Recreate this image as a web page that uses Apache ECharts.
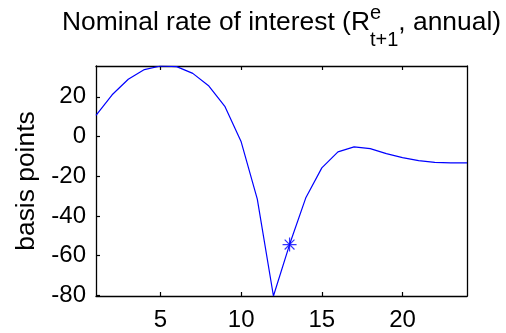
<!DOCTYPE html>
<html>
<head>
<meta charset="utf-8">
<script src="https://cdn.jsdelivr.net/npm/echarts@6/dist/echarts.min.js"></script>
<style>
html,body{margin:0;padding:0;background:#fff;}
#chart{width:506px;height:333px;}
</style>
</head>
<body>
<div id="chart"></div>
<script>
const periods = [1,2,3,4,5,6,7,8,9,10,11,12,13,14,15,16,17,18,19,20,21,22,23,24];
const rate = [10.6,21.0,28.8,33.7,35.5,35.2,31.8,25.4,15.0,-2.7,-31.5,-80.3,-54.4,-31.0,-15.8,-7.7,-5.2,-6.1,-8.6,-10.6,-12.1,-13.0,-13.3,-13.3];
const markerPeriods = [13];
const xTickValues = [5,10,15,20];
const yTickValues = [-80,-60,-40,-20,0,20];
const titleMain = 'Nominal rate of interest (R';
const titleSup = 'e';
const titleSub = 't+1';
const titleTail = ', annual)';
const yAxisTitle = 'basis points';

const FONT = 'Liberation Sans, Arial, Helvetica, sans-serif';
const mainSize = 26.4, smallSize = 20;

const cv = document.createElement('canvas').getContext('2d');
function tw(t, size){ cv.font = size + 'px ' + FONT; return cv.measureText(t).width; }

const gridLeft = 96, gridRight = 39, gridTop = 66, gridBottom = 37;
const W = 506, H = 333;
const centerX = (gridLeft + (W - gridRight)) / 2;

const wMain = tw(titleMain, mainSize);
const wSmall = Math.max(tw(titleSup, smallSize), tw(titleSub, smallSize));
const wTail = tw(titleTail, mainSize);
const total = wMain + wSmall + wTail;
const x0 = centerX - total / 2;

const chart = echarts.init(document.getElementById('chart'), null, {renderer:'canvas'});

const markerData = markerPeriods.map(p => [p, rate[periods.indexOf(p)]]);

const tickStyle = {show:true, inside:true, length:4, lineStyle:{color:'#000', width:1.2}};
const axisLineStyle = {show:true, onZero:false, lineStyle:{color:'#000', width:1.3}};

chart.setOption({
  animation:false,
  backgroundColor:'#fff',
  grid:{left:gridLeft, right:gridRight, top:gridTop, bottom:gridBottom, containLabel:false},
  xAxis:[{
    type:'value', min:periods[0], max:periods[periods.length-1], position:'bottom',
    axisLine:axisLineStyle,
    axisTick:Object.assign({customValues:xTickValues}, tickStyle),
    axisLabel:{customValues:xTickValues, color:'#000', fontSize:24, fontFamily:FONT, margin:12},
    splitLine:{show:false}
  },{
    type:'value', min:periods[0], max:periods[periods.length-1], position:'top',
    axisLine:axisLineStyle,
    axisTick:Object.assign({customValues:xTickValues}, tickStyle),
    axisLabel:{show:false},
    splitLine:{show:false}
  }],
  yAxis:[{
    type:'value', min:'dataMin', max:'dataMax', position:'left',
    axisLine:axisLineStyle,
    axisTick:Object.assign({customValues:yTickValues}, tickStyle),
    axisLabel:{customValues:yTickValues, color:'#000', fontSize:24, fontFamily:FONT, margin:10},
    splitLine:{show:false}
  },{
    type:'value', min:'dataMin', max:'dataMax', position:'right',
    axisLine:axisLineStyle,
    axisTick:Object.assign({customValues:yTickValues}, tickStyle),
    axisLabel:{show:false},
    splitLine:{show:false}
  }],
  series:[{
    type:'line',
    data:periods.map((p,i)=>[p, rate[i]]),
    showSymbol:false,
    symbol:'none',
    lineStyle:{color:'#0000ff', width:1.2},
    xAxisIndex:0, yAxisIndex:0
  },{
    type:'scatter',
    data:markerData,
    symbol:'path://M0,6L12,6M6,0L6,12M1.8,1.8L10.2,10.2M1.8,10.2L10.2,1.8',
    symbolSize:14,
    itemStyle:{color:'none', borderColor:'#0000ff', borderWidth:1.2},
    xAxisIndex:0, yAxisIndex:0
  }],
  graphic:[
    {type:'text', x:x0, y:22.7, style:{text:titleMain, font:mainSize+'px '+FONT, fill:'#000', textAlign:'left', textVerticalAlign:'middle'}},
    {type:'text', x:x0+wMain, y:13, style:{text:titleSup, font:smallSize+'px '+FONT, fill:'#000', textAlign:'left', textVerticalAlign:'middle'}},
    {type:'text', x:x0+wMain, y:40, style:{text:titleSub, font:smallSize+'px '+FONT, fill:'#000', textAlign:'left', textVerticalAlign:'middle'}},
    {type:'text', x:x0+wMain+wSmall, y:22.7, style:{text:titleTail, font:mainSize+'px '+FONT, fill:'#000', textAlign:'left', textVerticalAlign:'middle'}},
    {type:'text', x:27, y:(gridTop + (H-gridBottom))/2, rotation:Math.PI/2, style:{text:yAxisTitle, font:mainSize+'px '+FONT, fill:'#000', textAlign:'center', textVerticalAlign:'middle'}}
  ]
});
</script>
</body>
</html>
